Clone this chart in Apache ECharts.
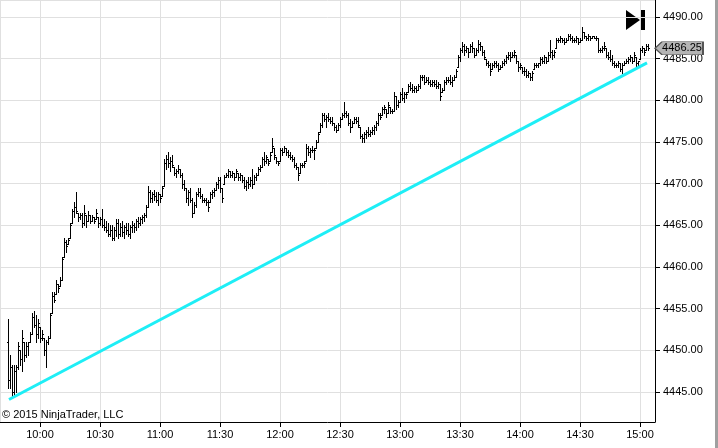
<!DOCTYPE html>
<html>
<head>
<meta charset="utf-8">
<title>ES 1 minute</title>
<script src="https://cdn.jsdelivr.net/npm/echarts@6/dist/echarts.min.js"></script>
<style>
  html, body { margin: 0; padding: 0; background: #fff; }
  #chart { width: 718px; height: 448px; }
</style>
</head>
<body>
<div id="chart"></div>
<script>
// 1-minute bars, first bar at 9:44 (minutes after midnight)
var startMinute = 584;

var opens = [
  4451, 4446.5, 4448, 4445, 4447.5, 4448, 4450, 4449, 4451, 4449.5,
  4450.5, 4451, 4452, 4454, 4453, 4452, 4452.75, 4451.5, 4451.5, 4450,
  4451, 4451.5, 4454.5, 4456.5, 4456.75, 4458, 4457.75, 4458.5, 4461.25, 4463,
  4462.75, 4463.5, 4465.25, 4466.75, 4467.25, 4466.5, 4466, 4466.25, 4465.25, 4466.25,
  4465.5, 4466.25, 4465.5, 4466, 4465.75, 4466, 4465.25, 4465.75, 4465, 4464.75,
  4464.5, 4464, 4464.5, 4463.5, 4464.5, 4465.25, 4464, 4464.75, 4464.25, 4464.75,
  4464.5, 4464, 4464.75, 4465, 4464.75, 4465.5, 4465.25, 4465.75, 4466, 4466.25,
  4467.25, 4469, 4468.25, 4468.75, 4468.5, 4468, 4468.75, 4468.5, 4469.75, 4472.5,
  4473, 4472.5, 4472.75, 4472, 4471.25, 4471.5, 4471.75, 4471, 4470, 4469.5,
  4468.25, 4469, 4468, 4466.5, 4467.5, 4468.75, 4469, 4468.5, 4468, 4468,
  4467.75, 4467.75, 4468.75, 4469, 4469.25, 4470, 4470.5, 4469.5, 4470, 4470.75,
  4471, 4471.5, 4471, 4471.25, 4470.75, 4471.25, 4470.75, 4471, 4470.5, 4469.75,
  4470.25, 4470, 4470.5, 4470, 4470.75, 4471, 4471.75, 4472, 4473, 4472.75,
  4473, 4472.75, 4473.75, 4474.25, 4473.25, 4472.75, 4472.75, 4474, 4473.75, 4474.25,
  4473.75, 4473.5, 4473.25, 4473, 4472.25, 4472, 4471.25, 4472.25, 4472.25, 4472.75,
  4474.25, 4473.75, 4474, 4474, 4474.25, 4475, 4476.25, 4477, 4478.25, 4477.75,
  4478, 4477.75, 4477.5, 4477.25, 4476.75, 4476.5, 4477, 4477.75, 4478.25, 4478.5,
  4478.25, 4477.25, 4476.75, 4477.25, 4477.75, 4477.5, 4476.75, 4475.75, 4475.5, 4476,
  4476.25, 4476, 4476.25, 4476.5, 4476.75, 4477.25, 4478.25, 4478.25, 4479, 4479,
  4478.5, 4479.25, 4478.75, 4478.75, 4480.5, 4479.5, 4479.75, 4480.75, 4480.25, 4480.75,
  4481, 4481.75, 4481.5, 4481.25, 4481.5, 4481.25, 4481.75, 4482.75, 4482.75, 4482.25,
  4482.5, 4482.25, 4482, 4482.25, 4482, 4481.75, 4482, 4481, 4481.25, 4482.25,
  4482.5, 4482.5, 4482.25, 4482.5, 4482.75, 4484, 4485.25, 4486, 4486.5, 4486,
  4486.25, 4485.75, 4486.5, 4486.25, 4485.5, 4486, 4486.75, 4486.5, 4485.75, 4485,
  4484.5, 4484.25, 4483.75, 4484.25, 4484.5, 4484.25, 4483.75, 4484, 4484.5, 4484.75,
  4485.25, 4485.5, 4485.25, 4485.5, 4485.5, 4484.75, 4484, 4484, 4483.5, 4483.5,
  4483, 4483.25, 4482.75, 4483.75, 4484.25, 4484.25, 4484.5, 4485, 4484.75, 4485.25,
  4484.75, 4485.5, 4485.75, 4485.5, 4486.25, 4487.25, 4487.25, 4487.5, 4487.25, 4487,
  4487.25, 4487.75, 4487.5, 4487.25, 4487.25, 4487.5, 4487, 4487.25, 4488.25, 4487.75,
  4487.5, 4487.75, 4487.5, 4487.75, 4487.5, 4487.5, 4486, 4486, 4486.25, 4486.25,
  4485.5, 4485.25, 4485, 4484.5, 4484.25, 4484.25, 4484.5, 4483.75, 4484.25, 4484.5,
  4484.75, 4485, 4485.25, 4484.75, 4485.25, 4484.5, 4485, 4486, 4486.25, 4486, 4486.5
];

var highs = [
  4453.75, 4449.5, 4448.25, 4448.25, 4448.25, 4451, 4450, 4452.5, 4451, 4451,
  4451, 4452.25, 4454.5, 4454.75, 4454.25, 4453.75, 4452.75, 4452.5, 4451.5, 4451.25,
  4451.75, 4454.5, 4457, 4457, 4458.5, 4458, 4458.75, 4461.25, 4463.5, 4463.25,
  4463.5, 4465.25, 4467, 4467.75, 4469, 4466.5, 4466.5, 4466.5, 4467.5, 4466.25,
  4466.75, 4466.25, 4466.25, 4466, 4467, 4466, 4466, 4467, 4465.75, 4465.5,
  4465.25, 4465, 4465, 4464.75, 4465.75, 4465.75, 4465.25, 4465.5, 4465, 4465.25,
  4465.25, 4465, 4465.5, 4465.25, 4465.75, 4466, 4466, 4466.25, 4466.5, 4467.5,
  4469.75, 4469.25, 4469, 4469.25, 4469, 4469, 4468.75, 4469.75, 4473, 4473.5,
  4473.75, 4473.25, 4473.5, 4472, 4471.75, 4472.25, 4471.75, 4471.25, 4470.5, 4469.5,
  4469.25, 4469.5, 4468.25, 4467.75, 4469, 4469.5, 4469.5, 4468.75, 4468.25, 4468.25,
  4468, 4469, 4469.25, 4469.5, 4470.25, 4470.75, 4470.75, 4469.5, 4471, 4471.25,
  4471.75, 4471.5, 4471.5, 4471.25, 4471.75, 4471.25, 4471.25, 4471, 4470.75, 4470.5,
  4470.75, 4470.75, 4471.75, 4471, 4471.25, 4472, 4472.25, 4473.25, 4473.75, 4473.5,
  4473, 4473.75, 4475.5, 4474.25, 4473.25, 4472.75, 4474.25, 4474.25, 4474.5, 4474.25,
  4474, 4473.75, 4473.5, 4473.25, 4472.5, 4472, 4472.5, 4472.5, 4472.75, 4474.75,
  4474.5, 4474.25, 4474.5, 4474.25, 4475.25, 4476.25, 4477.25, 4478.5, 4478.5, 4478.25,
  4478.5, 4478, 4478, 4477.25, 4477, 4477.25, 4478, 4478.5, 4479.75, 4478.75,
  4478.5, 4477.75, 4477.5, 4478, 4478, 4478, 4476.75, 4476, 4476.25, 4476.5,
  4476.75, 4476.5, 4476.75, 4477, 4477.5, 4478.5, 4478.5, 4479.25, 4479.5, 4479,
  4479.75, 4479.25, 4479, 4481, 4480.5, 4480, 4481, 4481.5, 4481, 4481,
  4482, 4482.25, 4482, 4481.75, 4481.75, 4482, 4483, 4483, 4483, 4482.75,
  4482.75, 4482.5, 4482.5, 4482.5, 4482.5, 4482.25, 4482, 4481.5, 4482.5, 4482.75,
  4482.75, 4483, 4482.75, 4483, 4483.75, 4485.5, 4486.25, 4487, 4486.75, 4486.5,
  4486.25, 4486.75, 4487, 4486.25, 4486.25, 4487.25, 4487, 4486.5, 4486, 4485,
  4484.75, 4484.5, 4484.5, 4484.75, 4484.75, 4484.5, 4484.25, 4484.75, 4485, 4485.5,
  4485.75, 4485.75, 4485.75, 4486, 4485.5, 4484.75, 4484.5, 4484, 4484, 4483.75,
  4483.5, 4483.25, 4483.5, 4484.5, 4484.5, 4484.5, 4485.25, 4485.25, 4485.5, 4485.25,
  4485.75, 4487.25, 4486, 4486, 4487.5, 4487.5, 4487.75, 4487.5, 4487.5, 4487.5,
  4488, 4488, 4487.75, 4487.5, 4487.75, 4487.5, 4487.5, 4488.75, 4488.25, 4487.75,
  4488, 4487.75, 4487.75, 4487.75, 4487.75, 4487.5, 4486.25, 4486.5, 4487, 4486.25,
  4485.75, 4486, 4485.5, 4484.75, 4484.5, 4484.75, 4484.5, 4484.5, 4484.75, 4485,
  4485.25, 4485.5, 4485.25, 4485.75, 4485.25, 4484.75, 4486.25, 4486.5, 4486.25, 4486.75, 4486.75
];

var lows = [
  4445.5, 4445.5, 4444.5, 4444.5, 4445, 4447.75, 4448.25, 4447.5, 4448.75, 4449.25,
  4449.5, 4451, 4452, 4452.75, 4451, 4451.5, 4451, 4451.25, 4449.5, 4448,
  4450.75, 4451.5, 4454.5, 4455.75, 4456.75, 4457, 4457.75, 4458.5, 4461.25, 4461.75,
  4462.75, 4463.5, 4465.25, 4466, 4466.5, 4465.5, 4465.75, 4464.75, 4465, 4464.75,
  4465.5, 4465.25, 4465.5, 4465.25, 4465.75, 4464.75, 4465, 4464.75, 4464.5, 4464.25,
  4463.75, 4463.75, 4463.25, 4463.25, 4463.75, 4463.5, 4463.75, 4463.75, 4463.5, 4464,
  4463.75, 4463.5, 4464.25, 4464.25, 4464.5, 4464.75, 4465, 4465.25, 4465.5, 4466,
  4467.25, 4467.75, 4467.75, 4468, 4467.75, 4467.5, 4467.75, 4468.5, 4469.75, 4471.75,
  4472, 4471.5, 4472, 4471, 4470.75, 4471.25, 4470.75, 4469.5, 4469.25, 4467.75,
  4467.5, 4467.75, 4466, 4466.5, 4467.25, 4468.5, 4468.25, 4467.75, 4467.75, 4467.5,
  4466.75, 4467.75, 4468.25, 4468.5, 4469.25, 4469.5, 4469, 4467.75, 4470, 4470.75,
  4470.75, 4470.75, 4470.75, 4470.5, 4470.75, 4470.5, 4470.5, 4470.25, 4469.5, 4469.25,
  4469.5, 4469.75, 4469.5, 4470, 4470.5, 4471, 4471.5, 4472, 4472.25, 4472.5,
  4472.25, 4472.75, 4473.75, 4473, 4472.5, 4472.25, 4472.75, 4473.5, 4473.75, 4473.5,
  4473.25, 4473, 4472.75, 4472, 4471.75, 4470.5, 4471.25, 4472, 4472, 4472.75,
  4473.5, 4473.25, 4473.75, 4473, 4474.25, 4475, 4476.25, 4476.75, 4477.5, 4476.75,
  4477.5, 4477.25, 4477, 4476.5, 4476.25, 4476.5, 4476.75, 4477.75, 4478, 4478,
  4477, 4476.25, 4476.75, 4477.25, 4477.25, 4476.75, 4475.5, 4475, 4475, 4475.5,
  4475.75, 4475.75, 4476, 4476, 4476.5, 4477, 4477.75, 4478.25, 4478.5, 4478,
  4478.5, 4478.5, 4478.5, 4478.75, 4479, 4479.25, 4479.75, 4480, 4479.75, 4480.25,
  4481, 4481.25, 4481, 4481, 4481, 4481.25, 4481.5, 4482.5, 4482, 4482.25,
  4482, 4481.75, 4481.75, 4481.75, 4481.5, 4481.5, 4480, 4481, 4481.25, 4482,
  4482.25, 4482, 4481.75, 4482.5, 4482.75, 4484, 4484.75, 4485.75, 4485.5, 4485.75,
  4485.25, 4485.75, 4485.75, 4485.25, 4485.5, 4485.75, 4486, 4485.5, 4485, 4484.25,
  4484, 4483, 4483.75, 4484, 4484, 4483.5, 4483.75, 4484, 4484.25, 4484.5,
  4485, 4484.75, 4485.25, 4485.25, 4484.5, 4483.5, 4483.75, 4483.25, 4483, 4482.75,
  4482.75, 4482.5, 4482.5, 4483.75, 4484, 4484, 4484.25, 4484.5, 4484.5, 4484.5,
  4484.75, 4485.25, 4485, 4485.25, 4486.25, 4487, 4487, 4487, 4486.75, 4487,
  4487.25, 4487.25, 4487, 4487, 4487, 4486.75, 4487, 4487.25, 4487.5, 4487.25,
  4487.25, 4487.25, 4487.5, 4487.5, 4487.25, 4485.75, 4485.75, 4485.75, 4486, 4485.25,
  4485, 4484.75, 4484.25, 4484, 4484, 4484, 4483.5, 4483.25, 4484.25, 4484.5,
  4484.5, 4484.75, 4484.5, 4484.75, 4484, 4484.25, 4485, 4485.75, 4485.5, 4486, 4486
];

var closes = [
  4446.5, 4448, 4445, 4447.5, 4448, 4450.5, 4449, 4451.5, 4449.5, 4450.5,
  4451, 4452, 4454, 4453, 4452, 4453.25, 4451.5, 4452, 4450, 4451,
  4451.5, 4454.25, 4456.5, 4456, 4458, 4457.5, 4458.5, 4461, 4463, 4462.5,
  4463.25, 4465, 4466.75, 4467.25, 4466.75, 4466, 4466.25, 4465.25, 4466.5, 4465.5,
  4466.25, 4465.5, 4466, 4465.5, 4466.5, 4465.25, 4465.75, 4465, 4464.75, 4464.5,
  4464, 4464.5, 4463.5, 4464.5, 4465.25, 4464, 4464.75, 4464.25, 4464.75, 4464.5,
  4464, 4464.75, 4465, 4464.75, 4465.5, 4465.25, 4465.75, 4466, 4466.25, 4467.25,
  4469, 4468.25, 4468.75, 4468.5, 4468, 4468.75, 4468.25, 4469.5, 4472.5, 4473,
  4472.5, 4472.75, 4472.25, 4471.25, 4471.5, 4471.75, 4471, 4470, 4469.5, 4468.25,
  4469, 4468, 4466.5, 4467.5, 4468.75, 4469, 4468.5, 4468, 4468, 4467.75,
  4467.25, 4468.75, 4469, 4469.25, 4470, 4470.5, 4469.5, 4468.25, 4470.75, 4471,
  4471.5, 4471, 4471.25, 4470.75, 4471.5, 4470.75, 4471, 4470.5, 4469.75, 4470.25,
  4470, 4470.5, 4470, 4470.75, 4471, 4471.75, 4472, 4473, 4472.75, 4473.25,
  4472.5, 4473.5, 4474.5, 4473.5, 4472.75, 4472.5, 4474, 4473.75, 4474.25, 4473.75,
  4473.5, 4473.25, 4473, 4472.25, 4472, 4471, 4472.25, 4472.25, 4472.5, 4474.25,
  4473.75, 4474, 4474, 4474, 4475, 4476, 4477, 4478.25, 4477.75, 4478,
  4477.75, 4477.5, 4477.25, 4476.75, 4476.5, 4477, 4477.75, 4478.25, 4478.5, 4478.25,
  4477.25, 4476.75, 4477.25, 4477.75, 4477.5, 4477, 4475.75, 4475.5, 4476, 4476.25,
  4476, 4476.25, 4476.5, 4476.75, 4477.25, 4478.25, 4478, 4479, 4479.25, 4478.5,
  4479.5, 4478.75, 4478.75, 4480.5, 4479.5, 4479.75, 4480.75, 4480.25, 4480.75, 4480.75,
  4481.75, 4481.5, 4481.25, 4481.5, 4481.25, 4481.75, 4482.75, 4482.75, 4482.25, 4482.5,
  4482.25, 4482, 4482.25, 4482, 4481.75, 4482, 4480.5, 4481.25, 4482.25, 4482.5,
  4482.5, 4482.25, 4482.5, 4482.75, 4483.5, 4485.25, 4486, 4486.5, 4486, 4486.25,
  4485.75, 4486.5, 4486.25, 4485.5, 4486, 4486.75, 4486.5, 4485.75, 4485.25, 4484.5,
  4484.25, 4483.5, 4484.25, 4484.5, 4484.25, 4483.75, 4484, 4484.5, 4484.75, 4485.25,
  4485.5, 4485.25, 4485.5, 4485.75, 4484.75, 4484, 4484.25, 4483.5, 4483.5, 4483,
  4483.25, 4482.75, 4483.25, 4484.25, 4484.25, 4484.5, 4485, 4484.75, 4485.25, 4484.75,
  4485.5, 4485.75, 4485.5, 4485.75, 4487.25, 4487.25, 4487.5, 4487.25, 4487, 4487.25,
  4487.75, 4487.5, 4487.25, 4487.25, 4487.5, 4487, 4487.25, 4488.25, 4487.75, 4487.5,
  4487.75, 4487.5, 4487.75, 4487.5, 4487.5, 4486, 4486, 4486.25, 4486.5, 4485.5,
  4485.25, 4485, 4484.5, 4484.25, 4484.25, 4484.5, 4483.75, 4484.25, 4484.5, 4484.75,
  4485, 4485.25, 4484.75, 4485.5, 4484.5, 4484.75, 4486, 4486.25, 4485.75, 4486.5, 4486.25
];

// drawn trend line: [minute, price]
var trendLine = [[584.5, 4444.1], [903.5, 4484.5]];
var lastPrice = 4486.25;

// visible extents of the chart
var xMin = 580, xMax = 907.5;
var yMin = 4441.4, yMax = 4492.04;

var font = '"Liberation Sans", Arial, sans-serif';

var bars = opens.map(function (o, i) {
  return [startMinute + i, o, highs[i], lows[i], closes[i]];
});

function clock(v) {
  var h = Math.floor(v / 60), m = Math.round(v % 60);
  return h + ':' + (m < 10 ? '0' : '') + m;
}

// OHLC bar: vertical high-low line, open tick left, close tick right
function renderBar(params, api) {
  var t = api.value(0);
  var pH = api.coord([t, api.value(2)]);
  var pL = api.coord([t, api.value(3)]);
  var pO = api.coord([t, api.value(1)]);
  var pC = api.coord([t, api.value(4)]);
  var x = Math.round(pH[0]) + 0.5;
  var yo = Math.round(pO[1]) + 0.5;
  var yc = Math.round(pC[1]) + 0.5;
  return {
    type: 'group',
    children: [
      { type: 'line', shape: { x1: x, y1: Math.round(pH[1]), x2: x, y2: Math.round(pL[1]) + 1 },
        style: { stroke: '#000', lineWidth: 1 } },
      { type: 'line', shape: { x1: x - 1.5, y1: yo, x2: x, y2: yo },
        style: { stroke: '#000', lineWidth: 1 } },
      { type: 'line', shape: { x1: x, y1: yc, x2: x + 1.5, y2: yc },
        style: { stroke: '#000', lineWidth: 1 } }
    ]
  };
}

var chart = echarts.init(document.getElementById('chart'), null, { renderer: 'canvas' });

chart.setOption({
  animation: false,
  backgroundColor: '#fff',
  grid: { left: 0, right: 63, top: 0, bottom: 26, containLabel: false },
  xAxis: {
    type: 'value',
    min: xMin,
    max: xMax,
    splitNumber: 11,
    axisLine: { onZero: false, lineStyle: { color: '#000', width: 1 } },
    axisTick: { show: true, length: 5, lineStyle: { color: '#000' } },
    axisLabel: {
      margin: 7,
      color: '#000',
      fontSize: 11,
      fontFamily: font,
      showMinLabel: false,
      showMaxLabel: false,
      formatter: function (v) { return v % 30 === 0 ? clock(v) : ''; }
    },
    splitLine: { show: true, lineStyle: { color: '#e0e0e0', width: 1 } }
  },
  yAxis: {
    type: 'value',
    position: 'right',
    min: yMin,
    max: yMax,
    splitNumber: 10,
    axisLine: { show: true, lineStyle: { color: '#000', width: 1 } },
    axisTick: { show: true, length: 5, lineStyle: { color: '#000' } },
    axisLabel: {
      margin: 8,
      color: '#000',
      fontSize: 11,
      fontFamily: font,
      showMinLabel: false,
      showMaxLabel: false,
      formatter: function (v) {
        return Math.abs(v / 5 - Math.round(v / 5)) < 1e-6 ? v.toFixed(2) : '';
      }
    },
    splitLine: { show: true, lineStyle: { color: '#e0e0e0', width: 1 } }
  },
  series: [
    {
      name: 'ES',
      type: 'custom',
      renderItem: renderBar,
      data: bars,
      encode: { x: 0, y: [1, 2, 3, 4] },
      clip: true,
      silent: true
    },
    {
      name: 'trend',
      type: 'line',
      data: trendLine,
      showSymbol: false,
      silent: true,
      lineStyle: { color: '#1eeef6', width: 3 },
      z: 3,
      markPoint: {
        silent: true,
        symbol: 'path://M0,6L7,0L48,0L48,12L7,12Z',
        symbolSize: [48, 13],
        symbolOffset: [24, 0],
        symbolKeepAspect: false,
        itemStyle: { color: '#b4b4b4', borderColor: '#505050', borderWidth: 1 },
        label: {
          show: true,
          position: 'inside',
          offset: [3, 0],
          color: '#000',
          fontSize: 11,
          fontFamily: font,
          formatter: function () { return lastPrice.toFixed(2); }
        },
        data: [{ coord: [xMax, lastPrice], value: lastPrice }]
      }
    }
  ],
  graphic: [
    { type: 'text', left: 2, top: 409,
      style: { text: '\u00a9 2015 NinjaTrader, LLC', font: '11px ' + font, fill: '#000' } },
    { type: 'polygon', shape: { points: [[626, 10], [640, 20], [626, 30]] }, style: { fill: '#000' } },
    { type: 'rect', shape: { x: 641, y: 10, width: 4, height: 20 }, style: { fill: '#000' } },
    { type: 'rect', shape: { x: 715, y: 0, width: 3, height: 448 }, style: { fill: '#a0a0a0' } }
  ]
});
</script>
</body>
</html>
